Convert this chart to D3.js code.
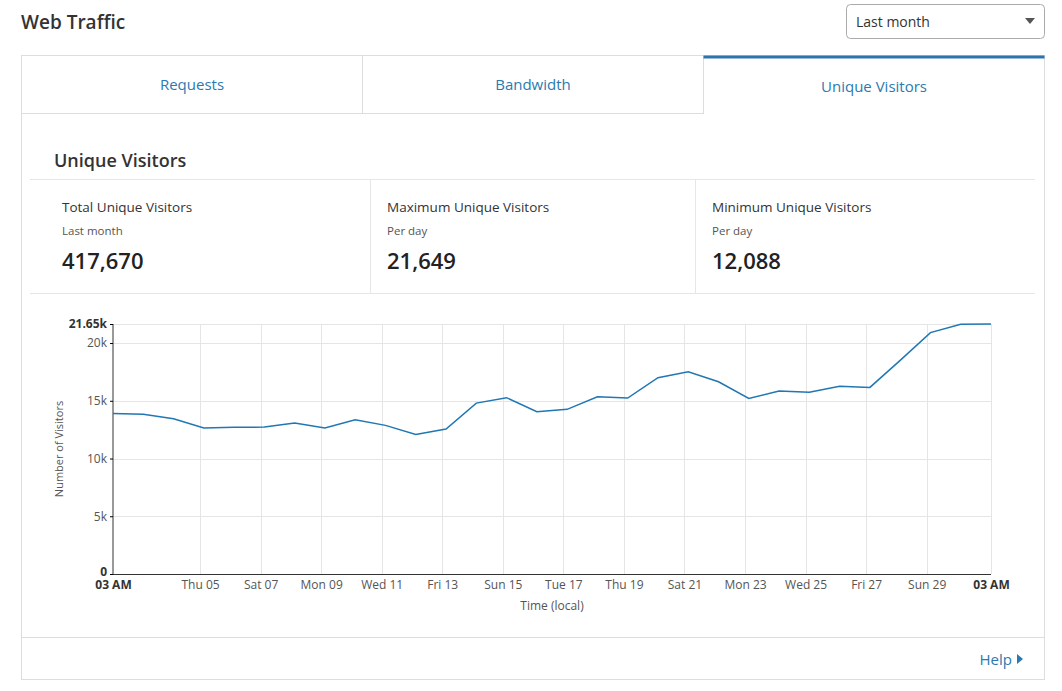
<!DOCTYPE html>
<html>
<head>
<meta charset="utf-8">
<script src="https://cdn.jsdelivr.net/npm/d3@7"></script>
<style>
  body { margin: 0; background: #fff; font-family: "Open Sans", "Noto Sans", sans-serif; }
  svg text { font-family: "Open Sans", "Noto Sans", sans-serif; }
</style>
</head>
<body>
<svg width="1062" height="691"></svg>
<script>
// data: one point per day
var visitors = [13.9, 13.83, 13.45, 12.64, 12.7, 12.72, 13.07, 12.64, 13.36, 12.87,
                12.088, 12.55, 14.8, 15.27, 14.05, 14.26, 15.35, 15.24, 17.0, 17.52,
                16.65, 15.21, 15.84, 15.73, 16.25, 16.16, 18.5, 20.9, 21.62, 21.649];
var startDay = new Date(2020, 2, 2, 3);
var tabs = ["Requests", "Bandwidth", "Unique Visitors"];
var statTitles = ["Total Unique Visitors", "Maximum Unique Visitors", "Minimum Unique Visitors"];
var statSubs = ["Last month", "Per day", "Per day"];
var statValues = ["417,670", "21,649", "12,088"];
var yTicks = [0, 5, 10, 15, 20];

var dates = visitors.map(function(d, i) { return d3.timeDay.offset(startDay, i); });

var svg = d3.select("svg");
var blue = "#1f77b4", linkBlue = "#2a7ab0", border = "#ddd";

// header
svg.append("text").attr("x", 21).attr("y", 29).attr("font-size", 19).attr("font-weight", 600)
  .attr("fill", "#333").text("Web Traffic");
svg.append("rect").attr("x", 846.5).attr("y", 4.5).attr("width", 198).attr("height", 34).attr("rx", 4)
  .attr("fill", "#fff").attr("stroke", "#aaa");
svg.append("text").attr("x", 856).attr("y", 27).attr("font-size", 14).attr("fill", "#333").text("Last month");
svg.append("path").attr("d", "M1025,18 L1035,18 L1030,24 Z").attr("fill", "#555");

// panel
svg.append("rect").attr("x", 21.5).attr("y", 55.5).attr("width", 1023).attr("height", 624)
  .attr("fill", "#fff").attr("stroke", border);
var tabW = 1023 / 3;
tabs.forEach(function(t, i) {
  var x0 = 21.5 + i * tabW;
  var active = i === 2;
  if (!active) {
    svg.append("rect").attr("x", x0).attr("y", 55.5).attr("width", tabW).attr("height", 58)
      .attr("fill", "#fff").attr("stroke", border);
  } else {
    svg.append("rect").attr("x", x0).attr("y", 55.5).attr("width", tabW).attr("height", 3).attr("fill", "#2c74ad");
  }
  svg.append("text").attr("x", x0 + tabW / 2).attr("y", active ? 92 : 90).attr("text-anchor", "middle")
    .attr("font-size", 15).attr("fill", linkBlue).text(t);
});

svg.append("text").attr("x", 54).attr("y", 167).attr("font-size", 18).attr("font-weight", 600)
  .attr("fill", "#333").text("Unique Visitors");
svg.append("line").attr("x1", 30).attr("x2", 1035).attr("y1", 179.5).attr("y2", 179.5).attr("stroke", "#e6e6e6");
svg.append("line").attr("x1", 30).attr("x2", 1035).attr("y1", 293.5).attr("y2", 293.5).attr("stroke", "#e6e6e6");
var colX = [30, 370, 695];
statTitles.forEach(function(t, i) {
  if (i > 0) svg.append("line").attr("x1", colX[i] + 0.5).attr("x2", colX[i] + 0.5).attr("y1", 180).attr("y2", 293).attr("stroke", "#e6e6e6");
  var g = svg.append("g").attr("transform", "translate(" + (colX[i] + (i === 0 ? 32 : 17)) + ",0)");
  g.append("text").attr("y", 212).attr("font-size", 13.5).attr("fill", "#333").text(t);
  g.append("text").attr("y", 235).attr("font-size", 11.5).attr("fill", "#555").text(statSubs[i]);
  g.append("text").attr("y", 269).attr("font-size", 22).attr("font-weight", 600).attr("fill", "#222").text(statValues[i]);
});

// chart
var x = d3.scaleTime().domain([dates[0], dates[dates.length - 1]]).range([113, 991]);
var y = d3.scaleLinear().domain([0, 21.649]).range([574, 324]);
var cg = svg.append("g");

var xTicks = d3.timeDay.every(2).range(new Date(2020, 2, 5), new Date(2020, 2, 30));
cg.append("g").selectAll("line").data(xTicks).join("line")
  .attr("x1", function(d) { return Math.round(x(d)) + 0.5; }).attr("x2", function(d) { return Math.round(x(d)) + 0.5; })
  .attr("y1", 324).attr("y2", 574).attr("stroke", "#e5e5e5");
cg.append("line").attr("x1", 991.5).attr("x2", 991.5).attr("y1", 324).attr("y2", 574).attr("stroke", "#e5e5e5");
cg.append("g").selectAll("line").data(yTicks.concat([21.649])).join("line")
  .attr("x1", 113).attr("x2", 991).attr("y1", function(d) { return Math.round(y(d)) + 0.5; })
  .attr("y2", function(d) { return Math.round(y(d)) + 0.5; }).attr("stroke", "#e5e5e5");

var yAxis = cg.append("g").attr("transform", "translate(113,0)")
  .call(d3.axisLeft(y).tickValues(yTicks.concat([21.649])).tickSize(3)
    .tickFormat(function(d) { return d === 21.649 ? "21.65k" : d === 0 ? "0" : d + "k"; }));
yAxis.select(".domain").attr("stroke", "#333").attr("d", "M0,324V574");
yAxis.selectAll("text").attr("font-size", 12).attr("fill", "#555").attr("font-family", "Open Sans, Noto Sans, sans-serif");
yAxis.selectAll(".tick").filter(function(d) { return d === 21.649 || d === 0; }).select("text")
  .attr("font-weight", 700).attr("fill", "#333");
yAxis.selectAll(".tick").filter(function(d) { return d === 0; }).select("text").attr("dy", "0.1em");

var xAxis = cg.append("g").attr("transform", "translate(0,574)")
  .call(d3.axisBottom(x).tickValues([dates[0]].concat(xTicks, [dates[dates.length - 1]])).tickSize(0).tickPadding(6)
    .tickFormat(function(d, i, n) { return (i === 0 || i === n.length - 1) ? "03 AM" : d3.timeFormat("%a %d")(d); }));
xAxis.select(".domain").attr("stroke", "#333").attr("d", "M113,0.5H991");
xAxis.selectAll("text").attr("font-size", 12).attr("fill", "#555").attr("font-family", "Open Sans, Noto Sans, sans-serif");
xAxis.selectAll(".tick").filter(function(d, i, n) { return i === 0 || i === n.length - 1; }).select("text")
  .attr("font-weight", 700).attr("fill", "#333");

cg.append("text").attr("x", 552).attr("y", 610).attr("text-anchor", "middle").attr("font-size", 12)
  .attr("fill", "#555").text("Time (local)");
cg.append("text").attr("transform", "translate(63,449) rotate(-90)").attr("text-anchor", "middle")
  .attr("font-size", 11).attr("fill", "#555").text("Number of Visitors");

var line = d3.line().x(function(d, i) { return x(dates[i]); }).y(function(d) { return y(d); });
cg.append("path").datum(visitors).attr("d", line).attr("fill", "none").attr("stroke", blue).attr("stroke-width", 1.5);

// footer
svg.append("line").attr("x1", 22).attr("x2", 1044).attr("y1", 637.5).attr("y2", 637.5).attr("stroke", border);
svg.append("text").attr("x", 1012).attr("y", 665).attr("text-anchor", "end").attr("font-size", 15)
  .attr("fill", linkBlue).text("Help");
svg.append("path").attr("d", "M1017,654 L1023,659 L1017,664 Z").attr("fill", linkBlue);
</script>
</body>
</html>
